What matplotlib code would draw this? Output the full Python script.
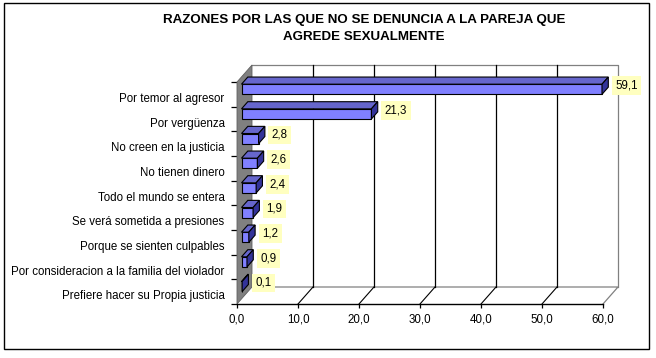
import matplotlib
matplotlib.use("Agg")
import matplotlib.pyplot as plt
from matplotlib.patches import Polygon, Rectangle

plt.rcParams['font.family'] = ['Liberation Sans', 'DejaVu Sans']

# ---- data ----
categories = [
    "Por temor al agresor",
    "Por vergüenza",
    "No creen en la justicia",
    "No tienen dinero",
    "Todo el mundo se entera",
    "Se verá sometida a presiones",
    "Porque se sienten culpables",
    "Por consideracion a la familia del violador",
    "Prefiere hacer su Propia justicia",
]
values = [59.1, 21.3, 2.8, 2.6, 2.4, 1.9, 1.2, 0.9, 0.1]
xticks = [0, 10, 20, 30, 40, 50, 60]
xticklabels = ["0,0", "10,0", "20,0", "30,0", "40,0", "50,0", "60,0"]
title = "RAZONES POR LAS QUE NO SE DENUNCIA A LA PAREJA QUE\nAGREDE SEXUALMENTE"

# ---- styling ----
W, H = 656, 358
FRONT = "#8080FF"
TOP = "#6666CC"
SIDE = "#333399"
WALL = "#808080"
LABEL_BG = "#FFFFC0"

fig = plt.figure(figsize=(W / 100, H / 100), dpi=100)
fig.patch.set_facecolor("white")

# outer border
fig.patches.append(Rectangle((4 / W, (H - 349) / H), (649 - 4) / W, (349 - 3) / H,
                             transform=fig.transFigure, fill=False,
                             edgecolor="black", linewidth=1.0))

fig.text(364 / W, 1 - 28.5 / H, title, ha="center", va="center",
         fontsize=9.6, fontweight="bold", linespacing=1.45)

# front plane axes
ax = fig.add_axes([237 / W, (H - 304) / H, 366 / W, 222 / H])
n = len(categories)
xmax = xticks[-1]
ax.set_xlim(0, xmax)
ax.set_ylim(0, n)
ax.set_facecolor("none")
for s in ["top", "right", "left"]:
    ax.spines[s].set_visible(False)
ax.spines["bottom"].set_linewidth(1.0)
ax.spines["bottom"].set_zorder(6)

# depth of the 3D box in data units
DX = 15 / 366 * xmax
DY = 17 / 222 * n

# floor
floor = Polygon([(0, 0), (xmax, 0), (xmax + DX, DY), (DX, DY)], closed=True,
                facecolor="white", edgecolor="none", zorder=1, clip_on=False)
ax.add_patch(floor)
ax.plot([DX, xmax + DX, xmax], [DY, DY, 0], color=WALL, lw=0.9, zorder=2, clip_on=False)
# back wall
ax.plot([DX, xmax + DX, xmax + DX], [n + DY, n + DY, DY], color=WALL, lw=0.9,
        zorder=2, clip_on=False)
for t in xticks[1:-1]:
    ax.plot([t + DX, t + DX], [DY, n + DY], color="black", lw=0.9, zorder=2, clip_on=False)
    ax.plot([t, t + DX], [0, DY], color="black", lw=0.8, zorder=2, clip_on=False)
# left side wall
wall = Polygon([(0, 0), (DX, DY), (DX, n + DY), (0, n)], closed=True,
               facecolor=WALL, edgecolor="#606060", linewidth=0.6, zorder=3, clip_on=False)
ax.add_patch(wall)

# bars
f0, bd, bh = 0.3, 0.42, 0.41
bdx, bdy = bd * DX, bd * DY
ycent = [n - i - 0.5 for i in range(n)]
yfront = [y + f0 * DY for y in ycent]
x0 = f0 * DX
ax.barh(yfront, values, left=x0, height=bh, color=FRONT, edgecolor="black",
        linewidth=0.8, zorder=5, clip_on=False)
px = xmax / 366
for yc, v in zip(yfront, values):
    yb, yt = yc - bh / 2, yc + bh / 2
    top = Polygon([(x0, yt), (x0 + v, yt), (x0 + v + bdx, yt + bdy), (x0 + bdx, yt + bdy)],
                  closed=True, facecolor=TOP, edgecolor="black", linewidth=0.8,
                  zorder=5, clip_on=False)
    side = Polygon([(x0 + v, yb), (x0 + v + bdx, yb + bdy), (x0 + v + bdx, yt + bdy),
                    (x0 + v, yt)], closed=True, facecolor=SIDE, edgecolor="black",
                   linewidth=0.8, zorder=5, clip_on=False)
    ax.add_patch(top)
    ax.add_patch(side)
    ax.text(x0 + v + bdx + 7 * px, yc + bdy / 2, f"{v:.1f}".replace(".", ","),
            ha="left", va="center", fontsize=8.3, zorder=7,
            bbox=dict(boxstyle="square,pad=0.3", facecolor=LABEL_BG, edgecolor="none"))

# x axis
ax.set_xticks(xticks)
ax.set_xticklabels(xticklabels, fontsize=8.3)
ax.tick_params(axis="x", direction="out", length=3, width=0.9, pad=4, colors="black")

# y axis: tick marks at boundaries, labels at centres
ax.set_yticks(range(n + 1))
ax.set_yticklabels([])
ax.tick_params(axis="y", which="major", direction="out", length=4, width=0.9)
ax.set_yticks([y - 0.13 for y in ycent], minor=True)
ax.set_yticklabels(categories, minor=True, fontsize=8.3)
ax.tick_params(axis="y", which="minor", length=0, pad=9)

fig.savefig("out.png", dpi=100, facecolor="white")
